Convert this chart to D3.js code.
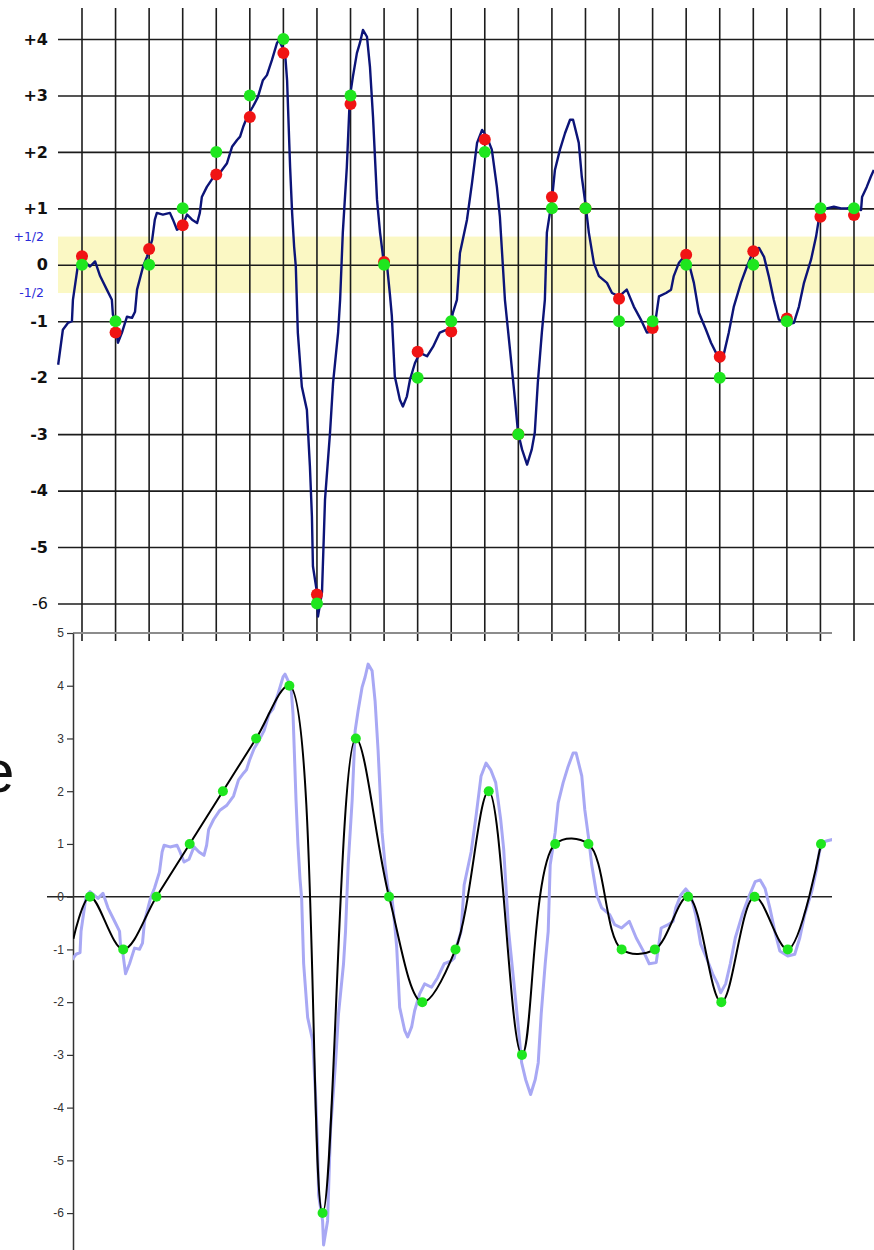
<!DOCTYPE html>
<meta charset="utf-8">
<style>
    body { margin: 0; background: #fff; }
    svg { display: block; font-family: 'Liberation Sans', Arial, sans-serif; }
</style>
<svg width="874" height="1250"></svg>
<script src="https://d3js.org/d3.v7.min.js"></script>
<script>
    // beats along the strip, one vertical grid line each
    var beats = d3.range(24);
    // rounded (green) and measured (red) value at each beat
    var greenVals = [0, -1, 0, 1, 2, 3, 4, -6, 3, 0, -2, -1, 2, -3, 1, 1, -1, -1, 0, -2, 0, -1, 1, 1];
    var redVals = [0.15, -1.2, 0.28, 0.7, 1.6, 2.62, 3.75, -5.84, 2.85, 0.05, -1.54, -1.18, 2.22, -3.0, 1.2, 1.0, -0.6, -1.12, 0.18, -1.63, 0.24, -0.95, 0.85, 0.88];
    var topTicks = [4, 3, 2, 1, 0, -1, -2, -3, -4, -5, -6];
    var halfTicks = [0.5, -0.5];
    var halfLabels = ["+1/2", "-1/2"];

    // raw trace: position in beats, value
    var traceBeat = [-0.71, -0.57, -0.42, -0.30, -0.27, -0.12, 0, 0.24, 0.39, 0.54, 0.74, 0.89, 0.92, 0.98, 1.07, 1.19, 1.34, 1.49, 1.58, 1.64,
        1.82, 1.94, 2.09, 2.17, 2.23, 2.41, 2.62, 2.71, 2.83, 2.98, 3.13, 3.28, 3.43, 3.51, 3.57, 3.72, 3.90, 4.11, 4.32, 4.47,
        4.62, 4.71, 4.80, 4.94, 5.09, 5.24, 5.39, 5.51, 5.66, 5.81, 5.87, 6.05, 6.11, 6.20, 6.26, 6.32, 6.37, 6.40, 6.43, 6.55,
        6.70, 6.79, 6.85, 6.88, 7.00, 7.03, 7.15, 7.24, 7.39, 7.48, 7.63, 7.69, 7.77, 7.89, 7.98, 8.07, 8.19, 8.28, 8.37, 8.49,
        8.58, 8.67, 8.79, 8.88, 8.97, 9.09, 9.17, 9.23, 9.32, 9.47, 9.56, 9.68, 9.77, 9.92, 10.07, 10.28, 10.46, 10.66, 10.87, 10.96,
        11.05, 11.17, 11.26, 11.47, 11.62, 11.77, 11.92, 12.06, 12.21, 12.36, 12.45, 12.54, 12.60, 12.75, 12.90, 12.99, 13.11, 13.26, 13.40, 13.49,
        13.58, 13.70, 13.79, 13.85, 14.00, 14.09, 14.24, 14.39, 14.54, 14.63, 14.80, 14.89, 15.01, 15.10, 15.25, 15.40, 15.64, 15.79, 16.00, 16.23,
        16.44, 16.65, 16.83, 17.04, 17.19, 17.40, 17.55, 17.63, 17.78, 17.93, 18.08, 18.23, 18.38, 18.59, 18.74, 18.89, 18.98, 19.13, 19.27, 19.42,
        19.63, 19.81, 20.02, 20.17, 20.32, 20.46, 20.61, 20.76, 21.00, 21.21, 21.36, 21.51, 21.72, 21.87, 21.95, 22.04, 22.19, 22.40, 22.61, 22.79,
        23.00, 23.21, 23.24, 23.38, 23.50, 23.59];
    var traceVal = [-1.77, -1.15, -1.03, -1.0, -0.62, 0, 0.09, -0.03, 0.06, -0.2, -0.44, -0.62, -0.88, -0.97, -1.38, -1.2, -0.92, -0.94, -0.83, -0.44,
        -0.03, 0.15, 0.44, 0.8, 0.92, 0.89, 0.92, 0.8, 0.62, 0.67, 0.89, 0.8, 0.74, 0.92, 1.2, 1.38, 1.54, 1.63, 1.8, 2.09,
        2.21, 2.27, 2.44, 2.65, 2.8, 2.97, 3.27, 3.36, 3.63, 3.93, 3.98, 3.75, 3.27, 1.73, 0.92, 0.32, -0.03, -0.62, -1.2, -2.16,
        -2.57, -3.57, -4.46, -5.34, -5.8, -6.23, -5.8, -4.16, -2.97, -2.09, -1.2, -0.62, 0.57, 1.73, 2.97, 3.33, 3.75, 3.93, 4.16, 4.04,
        3.5, 2.62, 1.15, 0.57, 0.14, -0.03, -0.5, -0.9, -1.98, -2.39, -2.51, -2.33, -2.04, -1.74, -1.56, -1.62, -1.45, -1.2, -1.15, -1.1,
        -0.85, -0.62, 0.21, 0.8, 1.45, 2.16, 2.39, 2.27, 2.04, 1.38, 0.85, -0.03, -0.62, -1.5, -2.39, -2.97, -3.27, -3.54, -3.27, -2.97,
        -2.09, -1.2, -0.62, 0.57, 1.15, 1.68, 2.04, 2.33, 2.57, 2.57, 2.16, 1.56, 1.03, 0.57, 0.03, -0.2, -0.32, -0.5, -0.56, -0.44,
        -0.74, -0.97, -1.2, -1.18, -0.56, -0.5, -0.44, -0.2, 0.03, 0.14, 0.03, -0.32, -0.85, -1.15, -1.38, -1.56, -1.72, -1.56, -1.2, -0.74,
        -0.32, -0.03, 0.27, 0.3, 0.14, -0.2, -0.62, -0.97, -1.06, -1.03, -0.74, -0.32, 0.09, 0.5, 0.8, 0.97, 1.0, 1.03, 1.0, 1.0,
        1.03, 0.97, 1.2, 1.38, 1.56, 1.68];

    // lower chart: smoothed line starts half a beat early
    var leadBeat = -0.5, leadVal = -0.8;
    var lowerBeats = d3.range(23);
    var lowerTicks = [5, 4, 3, 2, 1, 0, -1, -2, -3, -4, -5, -6];
    var traceGain = 1.06;

    var svg = d3.select("svg");

    // ---------- upper chart ----------
    var xTop = d3.scaleLinear().domain([0, 23]).range([82, 854]);
    var yTop = d3.scaleLinear().domain([-6, 4]).range([603.5, 39]);

    svg.append("rect")
        .attr("x", 58)
        .attr("width", 816)
        .attr("y", yTop(0.5))
        .attr("height", yTop(-0.5) - yTop(0.5))
        .attr("fill", "#fbf8c4");

    var gy = svg.append("g")
        .attr("transform", "translate(58,0)")
        .call(d3.axisLeft(yTop)
            .tickValues(topTicks)
            .tickSize(-816)
            .tickPadding(10)
            .tickFormat(function (d) { return d > 0 ? "+" + d : String(d); }));
    gy.select(".domain").remove();
    gy.selectAll(".tick line").attr("stroke", "#1c1c1c").attr("stroke-width", 1.6);
    gy.selectAll(".tick text")
        .attr("font-family", "'DejaVu Sans', Verdana, sans-serif")
        .attr("font-size", 16)
        .attr("font-weight", function (d) { return d === -6 ? "normal" : "bold"; })
        .attr("fill", "#111");

    svg.append("g").selectAll("text")
        .data(halfTicks)
        .join("text")
        .attr("x", 44)
        .attr("y", function (d) { return yTop(d); })
        .attr("dy", "0.35em")
        .attr("text-anchor", "end")
        .attr("font-family", "'DejaVu Sans', Verdana, sans-serif")
        .attr("font-size", 12.5)
        .attr("fill", "#2b2bd9")
        .text(function (d, i) { return halfLabels[i]; });

    svg.append("g").selectAll("line")
        .data(beats)
        .join("line")
        .attr("x1", xTop).attr("x2", xTop)
        .attr("y1", 8).attr("y2", 641)
        .attr("stroke", "#1c1c1c")
        .attr("stroke-width", 1.6);

    var trace = traceBeat.map(function (b, i) { return [b, traceVal[i]]; });

    svg.append("path")
        .datum(trace)
        .attr("fill", "none")
        .attr("stroke", "#0c1478")
        .attr("stroke-width", 2.4)
        .attr("stroke-linejoin", "round")
        .attr("d", d3.line().x(function (d) { return xTop(d[0]); }).y(function (d) { return yTop(d[1]); }));

    svg.append("g").selectAll("circle")
        .data(beats)
        .join("circle")
        .attr("cx", xTop)
        .attr("cy", function (d) { return yTop(redVals[d]); })
        .attr("r", 6)
        .attr("fill", "#f01414");

    svg.append("g").selectAll("circle")
        .data(beats)
        .join("circle")
        .attr("cx", xTop)
        .attr("cy", function (d) { return yTop(greenVals[d]); })
        .attr("r", 6)
        .attr("fill", "#1ee61e");

    // ---------- lower chart ----------
    var xBot = d3.scaleLinear().domain([0, 22]).range([90, 821]);
    var yBot = d3.scaleLinear().domain([-6.7, 5]).range([1250, 633]);
    var yTrace = d3.scaleLinear().domain([-6.7 / traceGain, 5 / traceGain]).range([1250, 633]);

    svg.append("defs").append("clipPath").attr("id", "plot")
        .append("rect").attr("x", 73).attr("y", 633).attr("width", 759).attr("height", 617);

    svg.append("line")
        .attr("x1", 73).attr("x2", 832)
        .attr("y1", yBot(5)).attr("y2", yBot(5))
        .attr("stroke", "#8c8c8c").attr("stroke-width", 2);

    svg.append("line")
        .attr("x1", 47).attr("x2", 832)
        .attr("y1", yBot(0)).attr("y2", yBot(0))
        .attr("stroke", "#222").attr("stroke-width", 1.6);

    var ga = svg.append("g")
        .attr("transform", "translate(73,0)")
        .call(d3.axisLeft(yBot)
            .tickValues(lowerTicks)
            .tickSize(6)
            .tickPadding(3)
            .tickSizeOuter(0)
            .tickFormat(function (d) { return String(d); }));
    ga.select(".domain").attr("stroke", "#333").attr("stroke-width", 1.5);
    ga.selectAll(".tick line").attr("stroke", "#333").attr("stroke-width", 1.2);
    ga.selectAll(".tick text")
        .attr("font-family", "'Liberation Sans', Arial, sans-serif")
        .attr("font-size", 12)
        .attr("fill", "#333");

    var plot = svg.append("g").attr("clip-path", "url(#plot)");

    plot.append("path")
        .datum(trace)
        .attr("fill", "none")
        .attr("stroke", "#a8a8f4")
        .attr("stroke-width", 3)
        .attr("stroke-linejoin", "round")
        .attr("d", d3.line().x(function (d) { return xBot(d[0]); }).y(function (d) { return yTrace(d[1]); }));

    var smooth = [[leadBeat, leadVal]].concat(lowerBeats.map(function (b) { return [b, greenVals[b]]; }));

    plot.append("path")
        .datum(smooth)
        .attr("fill", "none")
        .attr("stroke", "#000")
        .attr("stroke-width", 2)
        .attr("d", d3.line()
            .curve(d3.curveCatmullRom.alpha(0.5))
            .x(function (d) { return xBot(d[0]); })
            .y(function (d) { return yBot(d[1]); }));

    svg.append("g").selectAll("circle")
        .data(lowerBeats)
        .join("circle")
        .attr("cx", xBot)
        .attr("cy", function (d) { return yBot(greenVals[d]); })
        .attr("r", 5)
        .attr("fill", "#1ee61e");

    // cut-off letter at the left edge, as in the source
    svg.append("text")
        .attr("x", -19)
        .attr("y", 792)
        .attr("font-size", 60)
        .attr("fill", "#111")
        .text("e");
</script>
